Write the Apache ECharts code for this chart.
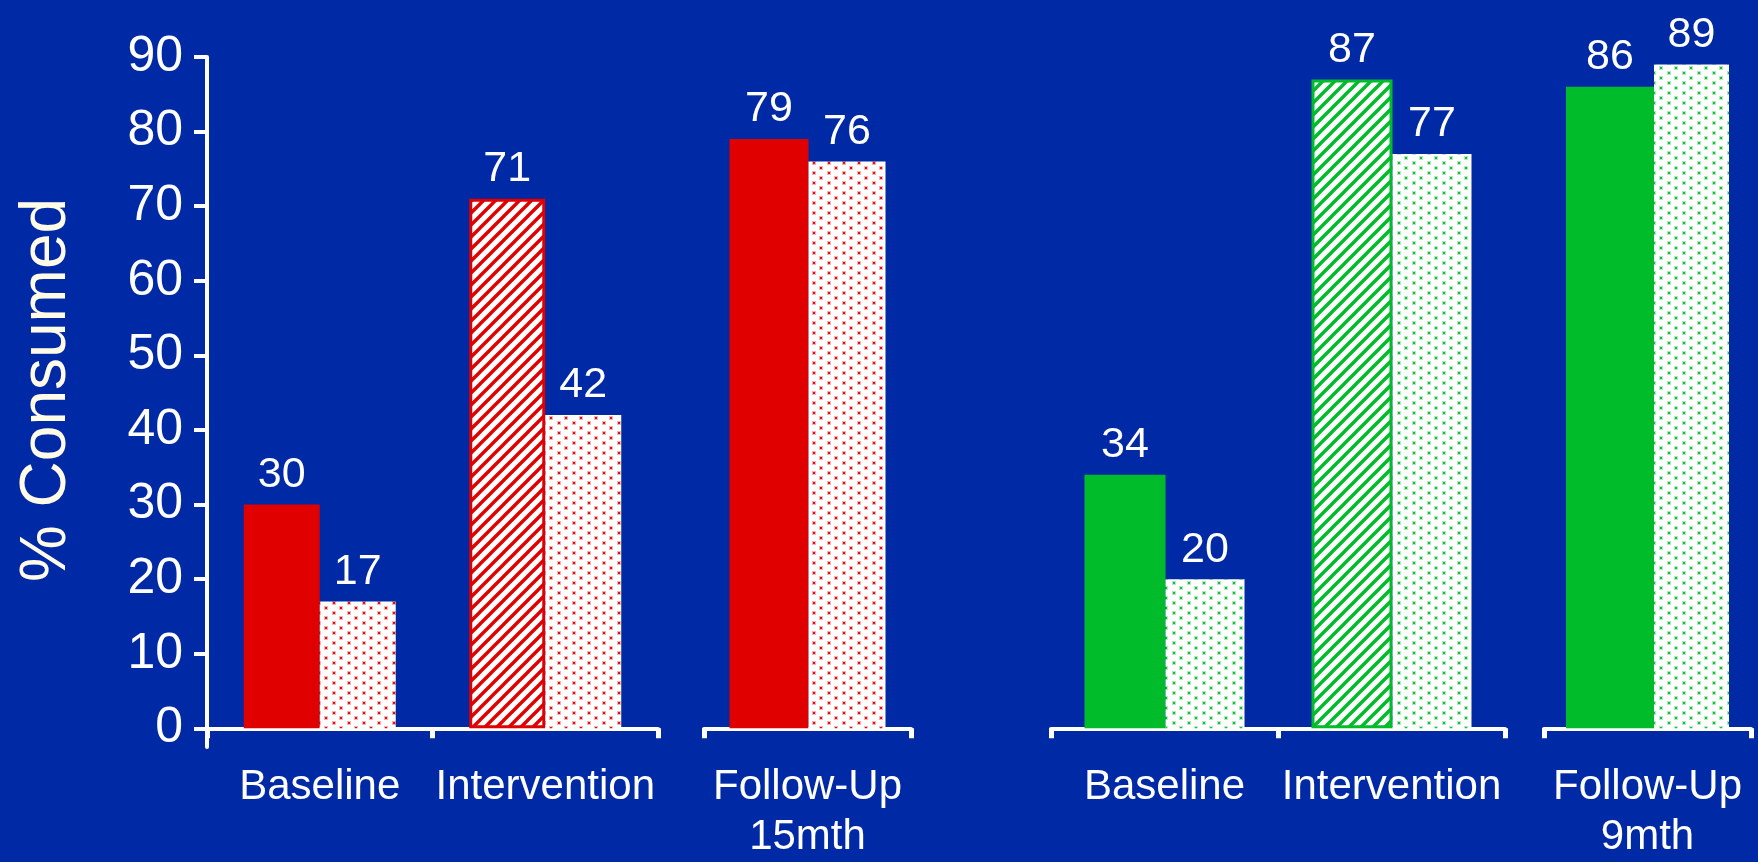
<!DOCTYPE html>
<html>
<head>
<meta charset="utf-8">
<script src="https://cdn.jsdelivr.net/npm/echarts@6/dist/echarts.min.js"></script>
<style>
  html, body { margin: 0; padding: 0; background: #0029a6; }
  #chart { width: 1758px; height: 862px; }
</style>
</head>
<body>
<div id="chart"></div>
<script>
// Categories
const mainCategories = ['Baseline', 'Intervention'];
const leftFollowUpCategory = ['Follow-Up\n15mth'];
const rightFollowUpCategory = ['Follow-Up\n9mth'];
const yTickValues = [0, 10, 20, 30, 40, 50, 60, 70, 80, 90];

// Left group (red)
const leftFirst = [30, 71];
const leftSecond = [17, 42];
const leftFollowFirst = [79];
const leftFollowSecond = [76];

// Right group (green)
const rightFirst = [34, 87];
const rightSecond = [20, 77];
const rightFollowFirst = [86];
const rightFollowSecond = [89];

const BG = '#0029a6';
const RED = '#e00000';
const GREEN = '#00bb2a';
const FONT = "'Liberation Sans', Arial, sans-serif";

// White fill with a staggered grid of small coloured dots
function dotPattern(color) {
  const w = 15, h = 10;
  const c = document.createElement('canvas');
  c.width = w; c.height = h;
  const g = c.getContext('2d');
  g.fillStyle = '#ffffff';
  g.fillRect(0, 0, w, h);
  [[3, 2], [10, 7]].forEach(([x, y]) => {
    g.globalAlpha = 0.3;
    g.fillStyle = color;
    g.fillRect(x - 1, y - 1, 4, 4);
    g.globalAlpha = 0.9;
    g.fillRect(x, y, 2, 2);
  });
  g.globalAlpha = 1;
  return { image: c, repeat: 'repeat' };
}

// White fill with diagonal coloured stripes
function hatchPattern(color) {
  const s = 12;
  const c = document.createElement('canvas');
  c.width = s; c.height = s;
  const g = c.getContext('2d');
  g.fillStyle = '#ffffff';
  g.fillRect(0, 0, s, s);
  g.strokeStyle = color;
  g.lineWidth = 3.4;
  g.beginPath();
  g.moveTo(-1, s + 1); g.lineTo(s + 1, -1);
  g.moveTo(-3, 3); g.lineTo(3, -3);
  g.moveTo(s - 3, s + 3); g.lineTo(s + 3, s - 3);
  g.stroke();
  return { image: c, repeat: 'repeat' };
}

const gridTop = 57;
const gridBottom = 115;
const grids = [
  { left: 207, width: 451, top: gridTop, bottom: gridBottom, outerBoundsMode: 'none' },
  { left: 704, width: 207, top: gridTop, bottom: gridBottom, outerBoundsMode: 'none' },
  { left: 1051, width: 454, top: gridTop, bottom: gridBottom, outerBoundsMode: 'none' },
  { left: 1544, width: 207, top: gridTop, bottom: gridBottom, outerBoundsMode: 'none' }
];

const axisCats = [mainCategories, leftFollowUpCategory, mainCategories, rightFollowUpCategory];

const xAxes = axisCats.map((cats, i) => ({
  type: 'category',
  gridIndex: i,
  data: cats,
  axisLine: { onZero: true, lineStyle: { color: '#ffffff', width: 4 } },
  axisTick: { show: true, length: 10, lineStyle: { color: '#ffffff', width: 5 } },
  axisLabel: {
    interval: 0, color: '#ffffff', fontSize: 42, fontFamily: FONT,
    margin: 15, lineHeight: 50
  },
  splitLine: { show: false }
}));

const yAxes = grids.map((g, i) => {
  const base = { type: 'value', gridIndex: i, min: -2.5, max: 90, splitLine: { show: false } };
  if (i !== 0) return Object.assign(base, { show: false });
  return Object.assign(base, {
    name: '% Consumed',
    nameLocation: 'middle',
    nameRotate: 90,
    nameGap: 128,
    nameTextStyle: { color: '#fffbe6', fontSize: 64, fontFamily: FONT, padding: [0, 0, 0, 24] },
    axisLine: { show: true, lineStyle: { color: '#ffffff', width: 4 } },
    axisTick: { show: true, length: 13, customValues: yTickValues, lineStyle: { color: '#ffffff', width: 4 } },
    axisLabel: { customValues: yTickValues, color: '#ffffff', fontSize: 50, fontFamily: FONT, margin: 24 }
  });
});

const valueLabel = { show: true, position: 'top', distance: 8, color: '#ffffff', fontSize: 43, fontFamily: FONT };

function solidData(values, color, hatchIndex) {
  return values.map((v, k) => k === hatchIndex
    ? { value: v, itemStyle: { color: hatchPattern(color), borderColor: color, borderWidth: 3 } }
    : v);
}

function barPair(gridIdx, first, second, color, hatchIndex, w1, w2) {
  return [
    {
      type: 'bar', xAxisIndex: gridIdx, yAxisIndex: gridIdx,
      data: solidData(first, color, hatchIndex),
      barWidth: w1, barGap: '0%',
      itemStyle: { color: color },
      label: valueLabel
    },
    {
      type: 'bar', xAxisIndex: gridIdx, yAxisIndex: gridIdx,
      data: second,
      barWidth: w2, barGap: '0%',
      itemStyle: { color: dotPattern(color) },
      label: valueLabel
    }
  ];
}

const series = [].concat(
  barPair(0, leftFirst, leftSecond, RED, 1, 76, 76),
  barPair(1, leftFollowFirst, leftFollowSecond, RED, -1, 79, 77),
  barPair(2, rightFirst, rightSecond, GREEN, 1, 81, 79),
  barPair(3, rightFollowFirst, rightFollowSecond, GREEN, -1, 88, 75)
);

const chart = echarts.init(document.getElementById('chart'), null, { renderer: 'canvas' });
chart.setOption({
  backgroundColor: BG,
  animation: false,
  grid: grids,
  xAxis: xAxes,
  yAxis: yAxes,
  series: series
});
</script>
</body>
</html>
